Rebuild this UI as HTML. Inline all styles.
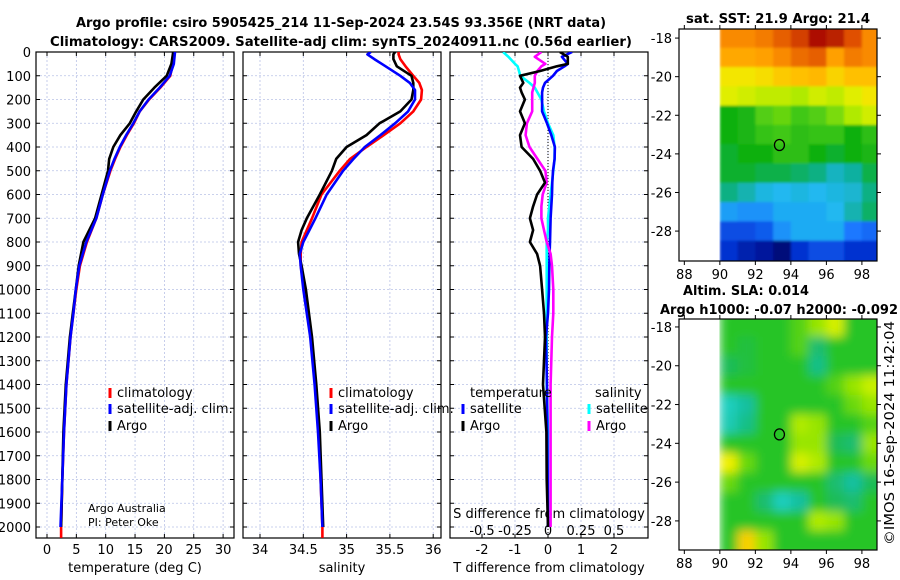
<!DOCTYPE html>
<html><head><meta charset="utf-8"><title>Argo profile</title>
<style>
html,body{margin:0;padding:0;background:#fff;}
svg{display:block;font-family:"DejaVu Sans","Liberation Sans",sans-serif;}
</style></head>
<body>
<svg id="fig" width="900" height="580" viewBox="0 0 900 580" xmlns="http://www.w3.org/2000/svg">
<defs>
<filter id="blurS" x="0" y="0" width="1" height="1"><feGaussianBlur stdDeviation="1.2"/></filter>
<filter id="blurA" x="0" y="0" width="1" height="1"><feGaussianBlur stdDeviation="5"/></filter>
<clipPath id="c1"><rect x="36" y="52" width="198" height="486"/></clipPath>
<clipPath id="c2"><rect x="243" y="52" width="198" height="486"/></clipPath>
<clipPath id="c3"><rect x="450" y="52" width="198" height="486"/></clipPath>
<clipPath id="cm1"><rect x="717" y="29" width="160" height="232"/></clipPath>
<clipPath id="cm2"><rect x="717" y="319" width="160" height="231"/></clipPath>
</defs>
<text x="341" y="27" text-anchor="middle" font-size="13" font-weight="bold" textLength="530" lengthAdjust="spacingAndGlyphs">Argo profile: csiro 5905425_214 11-Sep-2024 23.54S 93.356E (NRT data)</text>
<text x="341" y="46" text-anchor="middle" font-size="13" font-weight="bold" textLength="582" lengthAdjust="spacingAndGlyphs">Climatology: CARS2009. Satellite-adj clim: synTS_20240911.nc (0.56d earlier)</text>
<g id="layer"></g>
</svg>
<script>
// ---------- profile data ----------
const tDepth = [0,50,100,150,200,250,300,350,400,450,500,600,700,800,900,1000,1100,1200,1400,1600,1800,2000,2046];
const tempClim = [21.6,21.4,21.0,19.3,17.4,15.8,14.8,13.6,12.5,11.6,10.8,9.5,8.4,6.8,5.6,5.0,4.5,4.0,3.3,2.9,2.6,2.4,2.4];
const tempSat = [21.8,21.6,20.9,19.2,17.3,15.8,14.7,13.5,12.4,11.5,10.7,9.5,8.4,6.7,5.5,4.9,4.5,4.0,3.3,2.9,2.6,2.3,null];
const tempArgo = [21.5,21.2,20.4,18.3,16.4,15.2,14.1,12.5,11.3,10.6,10.4,9.3,8.2,6.2,5.4,4.9,4.4,3.9,3.2,2.8,2.6,2.4,null];

const sDepth = [0,10,30,60,100,130,160,200,250,300,350,400,450,500,600,700,750,800,850,900,1000,1200,1400,1600,1800,2000,2046];
const salClim = [35.6,35.6,35.62,35.68,35.77,35.84,35.87,35.86,35.77,35.62,35.43,35.23,35.04,34.92,34.71,34.60,34.54,34.48,34.47,34.47,34.51,34.59,34.64,34.68,34.70,34.72,34.72];
const salSat = [35.28,35.24,35.32,35.45,35.62,35.73,35.79,35.79,35.71,35.56,35.39,35.21,35.08,34.96,34.77,34.64,34.57,34.50,34.46,34.47,34.50,34.58,34.63,34.67,34.70,34.72,null];
const salArgo = [35.56,35.54,35.54,35.58,35.75,35.77,35.77,35.75,35.62,35.38,35.23,35.0,34.88,34.83,34.69,34.54,34.48,34.44,34.45,34.48,34.53,34.60,34.65,34.69,34.71,34.73,null];

const dDepth = [0,20,50,60,80,100,130,150,170,200,250,300,350,400,450,500,550,600,650,700,750,800,850,900,1000,1100,1200,1400,1600,1800,2000];
const tDiffSat = [0.73,0.42,0.6,0.5,0.27,0.15,-0.09,-0.15,-0.18,-0.18,-0.18,-0.03,0.1,0.21,0.2,0.15,0.13,0.12,0.1,0.08,0.07,0.06,0.05,0.04,0.03,0.0,-0.06,-0.03,-0.02,-0.01,0];
const tDiffArgo = [0.36,0.6,0.6,0.27,-0.24,-0.85,-0.75,-0.85,-0.8,-0.7,-0.85,-0.7,-0.85,-0.8,-0.45,-0.24,-0.09,-0.33,-0.45,-0.55,-0.45,-0.55,-0.33,-0.24,-0.18,-0.12,-0.09,-0.15,-0.05,-0.04,0];
const sDiffArgo = [-0.05,-0.1,-0.02,-0.05,-0.08,-0.1,-0.1,-0.11,-0.12,-0.12,-0.12,-0.16,-0.17,-0.14,-0.08,-0.02,-0.01,-0.04,-0.05,-0.05,-0.03,-0.01,0.02,0.03,0.04,0.04,0.03,0.02,0.02,0.02,0.02];
const sDiffSat = [-0.34,-0.3,-0.25,-0.23,-0.22,-0.21,-0.14,-0.1,-0.08,-0.05,-0.03,0,0.04,0.05,0.05,0.04,0.03,0.02,0.01,0,0,-0.01,-0.01,-0.01,-0.01,-0.01,-0.01,-0.01,0,0,0];

const depthTicks = [0,100,200,300,400,500,600,700,800,900,1000,1100,1200,1300,1400,1500,1600,1700,1800,1900,2000];
const tempTicks = [0,5,10,15,20,25,30];
const salTicks = [34,34.5,35,35.5,36];
const salTickLabels = ["34","34.5","35","35.5","36"];
const tdTicks = [-2,-1,0,1,2];
const sdTicks = [-0.5,-0.25,0,0.25,0.5];
const sdTickLabels = ["-0.5","-0.25","0","0.25","0.5"];

// ---------- map data ----------
const mapLons = [90.5,91.5,92.5,93.5,94.5,95.5,96.5,97.5,98.5];
const mapLats = [-18,-19,-20,-21,-22,-23,-24,-25,-26,-27,-28,-29];
const sstGrid = [
[23.9,23.9,24.0,24.2,24.4,24.7,24.6,24.3,23.9],
[23.6,23.6,23.7,23.9,24.1,24.2,23.7,24.0,23.9],
[22.9,22.9,23.0,23.2,23.3,23.4,23.1,23.3,23.3],
[22.7,22.6,22.5,22.5,22.4,22.6,22.5,22.7,22.9],
[21.3,21.4,21.9,22.0,21.8,21.9,22.1,22.4,22.6],
[21.3,21.4,21.7,21.8,21.6,21.7,21.7,21.3,21.6],
[21.2,21.3,21.3,21.6,21.6,21.3,21.2,21.3,21.4],
[21.2,21.2,21.1,21.1,21.0,20.9,20.6,20.8,21.1],
[20.9,20.7,20.4,20.3,20.4,20.3,20.4,20.5,20.9],
[20.1,20.0,20.0,20.2,20.2,20.2,20.3,20.7,21.0],
[19.5,19.5,19.6,20.0,20.2,20.2,20.2,19.8,19.7],
[19.3,19.1,19.0,18.8,19.3,19.5,19.5,19.3,19.3]];
const slaGrid = [
[0,0,0,0,0.02,0.05,0.08,0,0],
[0,-0.01,0,0,0.02,-0.03,0,0,0],
[-0.02,-0.01,0,0,0,-0.04,0,0,0],
[0,0,0,0,0,0,0.02,0.05,0.07],
[-0.08,-0.05,0,0,0,0,0,0.03,0.05],
[-0.07,-0.04,0,0,0.06,0.05,0,0,0.02],
[0,0,0,0,0.05,0.05,-0.02,-0.03,0.05],
[0.1,0.03,0,0,0.08,0.06,0,0,0.03],
[0.03,0,0,0,0,0,-0.03,-0.05,-0.02],
[0,0,-0.03,-0.08,-0.05,0,-0.02,-0.03,0],
[0,0,0,0,0,0.06,0.05,0,0],
[0,0.12,0.05,0,0,0,0,0,0]];
const argoLon = 93.356, argoLat = -23.54;
const lonTicks = [88,90,92,94,96,98];
const latTicks = [-18,-20,-22,-24,-26,-28];

// ---------- helpers ----------
const NS = "http://www.w3.org/2000/svg";
const layer = document.getElementById('layer');
function mk(tag, attrs, parent){ const e=document.createElementNS(NS,tag); for(const k in attrs) e.setAttribute(k,attrs[k]); (parent||layer).appendChild(e); return e; }
const TOP=52, BOT=538;
const yD = d => 52 + d*0.2375;
const xT = t => 47 + t*5.87;
const xS = s => 260 + (s-34)*86.6;
const xTD = v => 548 + v*33;
const xSD = v => 548 + v*132;

function panel(x0, name, xTicksPos, clip){
  const g = mk('g',{});
  
  
  const x1 = x0+198;
  xTicksPos.forEach(px=>{ const l=mk('line',{x1:px,x2:px,y1:TOP,y2:BOT,stroke:'#b9c2e6','stroke-width':0.8,'stroke-dasharray':'2,2'},g);
     
    mk('line',{x1:px,x2:px,y1:BOT,y2:BOT-4,stroke:'#000'},g); mk('line',{x1:px,x2:px,y1:TOP,y2:TOP+4,stroke:'#000'},g);});
  depthTicks.forEach(d=>{ const y=yD(d); const l=mk('line',{x1:x0,x2:x1,y1:y,y2:y,stroke:'#b9c2e6','stroke-width':0.8,'stroke-dasharray':'2,2'},g);
     
    mk('line',{x1:x0,x2:x0+4,y1:y,y2:y,stroke:'#000'},g); mk('line',{x1:x1-4,x2:x1,y1:y,y2:y,stroke:'#000'},g);});
  const r = mk('rect',{x:x0,y:TOP,width:198,height:BOT-TOP,fill:'none',stroke:'#000','stroke-width':1.2},g);
   
  return g;
}
function series(xs, ds, fx, color, name, clip, w){
  let d=''; let started=false;
  for(let i=0;i<xs.length;i++){ if(xs[i]===null||xs[i]===undefined){continue;} d += (started?'L':'M')+fx(xs[i]).toFixed(1)+','+yD(ds[i]).toFixed(1); started=true; }
  const p = mk('path',{d:d,fill:'none',stroke:color,'stroke-width':w||2.6,'stroke-linejoin':'round','clip-path':'url(#'+clip+')'});
  
  
  return p;
}
function txt(x,y,s,opt,name){
  const t = mk('text',Object.assign({x:x,y:y,'font-size':13},opt||{})); t.textContent=s;
  
  
  return t;
}
function legendEntry(x,y,color,label,name){
  const l = mk('line',{x1:x,x2:x,y1:y-9,y2:y+1,stroke:color,'stroke-width':3});
  
  
  txt(x+7,y,label,{},name+'-label');
}

// ---------- panels ----------
panel(36,'temperature-panel',tempTicks.map(xT),'c1');
panel(243,'salinity-panel',salTicks.map(xS),'c2');
panel(450,'difference-panel',tdTicks.map(xTD),'c3');

// depth tick labels
depthTicks.forEach(d=>txt(31,yD(d)+5,String(d),{'text-anchor':'end'},'depth-tick-label'));
// x tick labels
tempTicks.forEach(t=>txt(xT(t),554,String(t),{'text-anchor':'middle'},'temperature-tick-label'));
salTicks.forEach((s,i)=>txt(xS(s),554,salTickLabels[i],{'text-anchor':'middle'},'salinity-tick-label'));
tdTicks.forEach(t=>txt(xTD(t),554,String(t),{'text-anchor':'middle'},'t-difference-tick-label'));
sdTicks.forEach((s,i)=>txt(xSD(s),535,sdTickLabels[i],{'text-anchor':'middle'},'s-difference-tick-label'));
txt(135,572,'temperature (deg C)',{'text-anchor':'middle'},'temperature-axis-title');
txt(342,572,'salinity',{'text-anchor':'middle'},'salinity-axis-title');
txt(549,572,'T difference from climatology',{'text-anchor':'middle'},'t-difference-axis-title');
txt(549,518,'S difference from climatology',{'text-anchor':'middle'},'s-difference-axis-title');

// zero line
const z = mk('line',{x1:xTD(0),x2:xTD(0),y1:TOP,y2:BOT,stroke:'#000','stroke-width':1,'stroke-dasharray':'1,2'});



// series
series(tempClim,tDepth,xT,'#ff0000','temperature-climatology-line','c1');
series(tempArgo,tDepth,xT,'#000000','temperature-argo-line','c1');
series(tempSat,tDepth,xT,'#0000ff','temperature-satellite-line','c1');
series(salClim,sDepth,xS,'#ff0000','salinity-climatology-line','c2');
series(salArgo,sDepth,xS,'#000000','salinity-argo-line','c2');
series(salSat,sDepth,xS,'#0000ff','salinity-satellite-line','c2');
series(sDiffSat,dDepth,xSD,'#00ffff','s-diff-satellite-line','c3');
series(tDiffSat,dDepth,xTD,'#0000ff','t-diff-satellite-line','c3');
series(sDiffArgo,dDepth,xSD,'#ff00ff','s-diff-argo-line','c3');
series(tDiffArgo,dDepth,xTD,'#000000','t-diff-argo-line','c3');

// legends
legendEntry(110,397,'#ff0000','climatology','legend-temp-climatology');
legendEntry(110,413,'#0000ff','satellite-adj. clim.','legend-temp-satellite');
legendEntry(110,430,'#000000','Argo','legend-temp-argo');
legendEntry(331,397,'#ff0000','climatology','legend-sal-climatology');
legendEntry(331,413,'#0000ff','satellite-adj. clim.','legend-sal-satellite');
legendEntry(331,430,'#000000','Argo','legend-sal-argo');
txt(470,397,'temperature',{},'legend-temperature-heading');
txt(595,397,'salinity',{},'legend-salinity-heading');
legendEntry(463,413,'#0000ff','satellite','legend-tdiff-satellite');
legendEntry(463,430,'#000000','Argo','legend-tdiff-argo');
legendEntry(589,413,'#00ffff','satellite','legend-sdiff-satellite');
legendEntry(589,430,'#ff00ff','Argo','legend-sdiff-argo');
txt(88,512,'Argo Australia',{'font-size':11},'credit-argo-australia');
txt(88,526,'PI: Peter Oke',{'font-size':11},'credit-pi');

// ---------- maps ----------
function lerpColor(stops, v){
  if(v<=stops[0][0]) return stops[0][1];
  for(let i=1;i<stops.length;i++){ if(v<=stops[i][0]){ const a=stops[i-1],b=stops[i]; const t=(v-a[0])/(b[0]-a[0]);
    const ca=a[1].match(/\w\w/g).map(h=>parseInt(h,16)), cb=b[1].match(/\w\w/g).map(h=>parseInt(h,16));
    return '#'+ca.map((c,k)=>Math.round(c+(cb[k]-c)*t).toString(16).padStart(2,'0')).join(''); } }
  return stops[stops.length-1][1];
}
const sstStops = [[18.8,'#00087a'],[19.3,'#0030d0'],[19.8,'#1a78ff'],[20.3,'#20b8f0'],[20.8,'#10b0a0'],[21.3,'#10b010'],[21.8,'#40c818'],[22.3,'#a0e800'],[22.8,'#f0f000'],[23.3,'#ffc000'],[23.8,'#ff9800'],[24.3,'#e05000'],[24.8,'#a00000']];
const slaStops = [[-0.1,'#20d8d0'],[-0.05,'#18c0a0'],[-0.02,'#1cbc58'],[0,'#28c428'],[0.04,'#80e000'],[0.07,'#c8f000'],[0.1,'#f0f000'],[0.13,'#ffc000']];

function drawMap(name, box, latTop, latBot, grid, stops, clip, filt, title1, title2){
  const [bx0,by0,bx1,by1] = box;
  const lonX = lon => bx0 + (lon-87.7)*(bx1-bx0)/(98.85-87.7);
  const latY = lat => by0 + (latTop-lat)*(by1-by0)/(latTop-latBot);
  const g = mk('g',{});
  
  
  const cells = mk('g',{'clip-path':'url(#'+clip+')'},g);
  const inner = mk('g',{filter:'url(#'+filt+')'},cells);
  grid.forEach((row,ri)=>row.forEach((v,ci)=>{
    const x0=lonX(mapLons[ci]-0.5), x1=lonX(mapLons[ci]+0.5)+ (ci===row.length-1?8:0);
    const y0=latY(mapLats[ri]+0.5)-(ri===0?8:0), y1=latY(mapLats[ri]-0.5)+(ri===grid.length-1?8:0);
    const r = mk('rect',{x:x0.toFixed(1),y:y0.toFixed(1),width:(x1-x0+0.6).toFixed(1),height:(y1-y0+0.6).toFixed(1),fill:lerpColor(stops,v)},inner);
    
    
  }));
  const fr = mk('rect',{x:bx0,y:by0,width:bx1-bx0,height:by1-by0,fill:'none',stroke:'#000','stroke-width':1.2},g);
   
  latTicks.forEach(l=>{ const y=latY(l); mk('line',{x1:bx0-4,x2:bx0,y1:y,y2:y,stroke:'#000'},g); mk('line',{x1:bx1,x2:bx1+4,y1:y,y2:y,stroke:'#000'},g);
    txt(bx0-7,y+5,String(l),{'text-anchor':'end'},'map-latitude-tick-label');});
  lonTicks.forEach(l=>{ const x=lonX(l); mk('line',{x1:x,x2:x,y1:by1,y2:by1+4,stroke:'#000'},g); mk('line',{x1:x,x2:x,y1:by0-4,y2:by0,stroke:'#000'},g);
    txt(x,by1+18,String(l),{'text-anchor':'middle'},'map-longitude-tick-label');});
  const c = mk('ellipse',{cx:lonX(argoLon),cy:latY(argoLat),rx:5,ry:5.5,fill:'none',stroke:'#000','stroke-width':1.3},g);
  
  
}
drawMap('sst-map',[679,29,877,261],-17.53,-29.55,sstGrid,sstStops,'cm1','blurS');
drawMap('sla-map',[679,319,877,550],-17.59,-29.5,slaGrid,slaStops,'cm2','blurA');
txt(778,23,'sat. SST: 21.9 Argo: 21.4',{'text-anchor':'middle','font-weight':'bold','textLength':184,'lengthAdjust':'spacingAndGlyphs'},'sst-map-title');
txt(746,295,'Altim. SLA: 0.014',{'text-anchor':'middle','font-weight':'bold','textLength':126,'lengthAdjust':'spacingAndGlyphs'},'sla-map-title');
txt(779,314,'Argo h1000: -0.07 h2000: -0.092',{'text-anchor':'middle','font-weight':'bold','textLength':238,'lengthAdjust':'spacingAndGlyphs'},'argo-height-title');
txt(0,0,'\u00a9IMOS 16-Sep-2024 11:42:04',{'text-anchor':'middle','transform':'translate(894,433) rotate(-90)','textLength':224,'lengthAdjust':'spacingAndGlyphs'},'imos-timestamp');
</script>
</body></html>
